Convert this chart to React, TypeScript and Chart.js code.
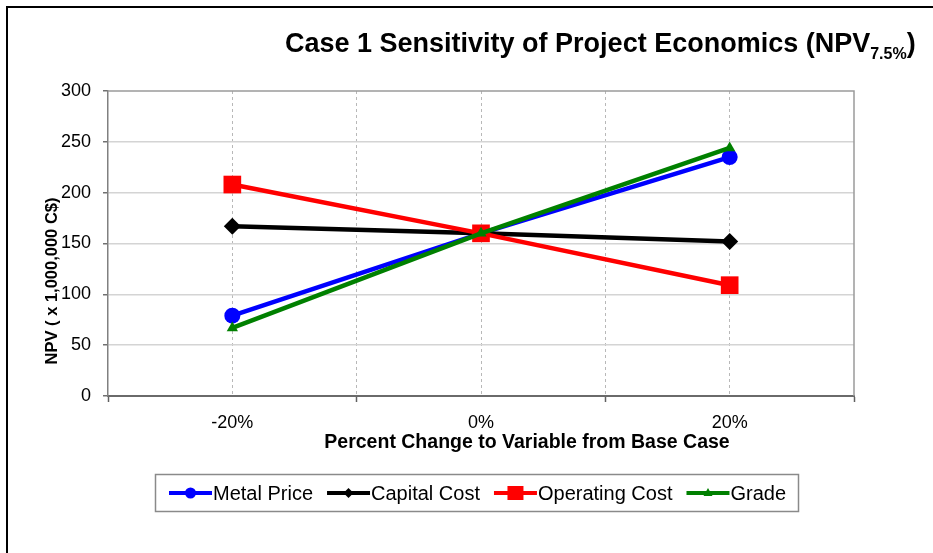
import React, { useEffect, useRef } from 'react';
import { Chart, registerables } from 'chart.js';

Chart.register(...registerables);

// ---- data ----
const pctChange = [-20, 0, 20];
const metalPrice = [79, 160, 235];
const capitalCost = [167, 160, 152];
const operatingCost = [208, 160, 109];
const grade = [67, 160, 244];

const seriesNames = ['Metal Price', 'Capital Cost', 'Operating Cost', 'Grade'];
const seriesValues = [metalPrice, capitalCost, operatingCost, grade];
const seriesColors = ['#0000FF', '#000000', '#FF0000', '#008000'];
const seriesMarkers = ['circle', 'rectRot', 'rect', 'triangle'];
const seriesMarkerRadius = [8, 8.5, 12.5, 6.5];

const xTickLabels = ['-20%', '0%', '20%'];
const yMin = 0;
const yMax = 300;
const yStep = 50;

const titleMain = 'Case 1 Sensitivity of Project Economics (NPV';
const titleSub = '7.5%';
const titleEnd = ')';
const xTitle = 'Percent Change to Variable from Base Case';
const yTitle = 'NPV ( x 1,000,000 C$)';

const FONT = '"Liberation Sans", Arial, sans-serif';

const decorPlugin = {
  id: 'decor',
  afterDraw(chart: any) {
    const ctx = chart.ctx as CanvasRenderingContext2D;
    const area = chart.chartArea;
    ctx.save();
    // outer frame (top and left)
    ctx.strokeStyle = '#000';
    ctx.lineWidth = 2;
    ctx.beginPath();
    ctx.moveTo(7, 553);
    ctx.lineTo(7, 7);
    ctx.lineTo(933, 7);
    ctx.stroke();

    // plot area border top/right
    ctx.strokeStyle = '#9a9a9a';
    ctx.lineWidth = 1.5;
    ctx.beginPath();
    ctx.moveTo(area.left, area.top);
    ctx.lineTo(area.right, area.top);
    ctx.lineTo(area.right, area.bottom);
    ctx.stroke();

    // title with subscript
    ctx.fillStyle = '#000';
    ctx.textBaseline = 'alphabetic';
    ctx.textAlign = 'left';
    ctx.font = `bold 27px ${FONT}`;
    let tx = 285;
    const ty = 52;
    ctx.fillText(titleMain, tx, ty);
    tx += ctx.measureText(titleMain).width;
    ctx.font = `bold 16px ${FONT}`;
    ctx.fillText(titleSub, tx, ty + 7);
    tx += ctx.measureText(titleSub).width;
    ctx.font = `bold 27px ${FONT}`;
    ctx.fillText(titleEnd, tx, ty);

    // x axis title
    ctx.font = `bold 19.5px ${FONT}`;
    ctx.textAlign = 'center';
    ctx.textBaseline = 'middle';
    ctx.fillText(xTitle, 527, 443);

    // y axis title
    ctx.save();
    ctx.translate(52, 281);
    ctx.rotate(-Math.PI / 2);
    ctx.font = `bold 16.5px ${FONT}`;
    ctx.fillText(yTitle, 0, 0);
    ctx.restore();

    // legend
    const lx = 155.5, ly = 474.5, lw = 643, lh = 37;
    ctx.strokeStyle = '#8a8a8a';
    ctx.lineWidth = 1.5;
    ctx.strokeRect(lx, ly, lw, lh);
    ctx.font = `20px ${FONT}`;
    ctx.textAlign = 'left';
    ctx.textBaseline = 'middle';
    let x = 169;
    const cy = ly + lh / 2;
    const sampleLen = 43;
    seriesNames.forEach((name, i) => {
      const color = seriesColors[i];
      ctx.strokeStyle = color;
      ctx.lineWidth = 4;
      ctx.beginPath();
      ctx.moveTo(x, cy);
      ctx.lineTo(x + sampleLen, cy);
      ctx.stroke();
      ctx.fillStyle = color;
      const mx = x + sampleLen / 2;
      const m = seriesMarkers[i];
      ctx.beginPath();
      if (m === 'circle') {
        ctx.arc(mx, cy, 5.5, 0, Math.PI * 2);
      } else if (m === 'rectRot') {
        ctx.moveTo(mx - 5, cy);
        ctx.lineTo(mx, cy - 5);
        ctx.lineTo(mx + 5, cy);
        ctx.lineTo(mx, cy + 5);
        ctx.closePath();
      } else if (m === 'rect') {
        ctx.rect(mx - 8, cy - 7, 16, 14);
      } else {
        ctx.moveTo(mx, cy - 5);
        ctx.lineTo(mx + 4.5, cy + 3);
        ctx.lineTo(mx - 4.5, cy + 3);
        ctx.closePath();
      }
      ctx.fill();
      ctx.fillStyle = '#000';
      ctx.fillText(name, x + sampleLen + 1, cy + 1);
      x += sampleLen + 1 + ctx.measureText(name).width + 14;
    });
    ctx.restore();
  },
};

export default function App() {
  const canvasRef = useRef<HTMLCanvasElement | null>(null);

  useEffect(() => {
    const canvas = canvasRef.current;
    if (!canvas) return;
    const datasets = seriesNames.map((name, i) => ({
      label: name,
      data: pctChange.map((p, j) => ({ x: p, y: seriesValues[i][j] })),
      borderColor: seriesColors[i],
      backgroundColor: seriesColors[i],
      borderWidth: 4.5,
      pointStyle: seriesMarkers[i],
      pointRadius: seriesMarkerRadius[i],
      pointBorderWidth: 0,
      pointBackgroundColor: seriesColors[i],
      order: seriesNames.length - i,
      tension: 0,
    }));

    const chart = new Chart(canvas, {
      type: 'line',
      data: { datasets },
      plugins: [decorPlugin],
      options: {
        animation: false,
        responsive: false,
        devicePixelRatio: 1,
        layout: { padding: { left: 0, top: 91, right: 79, bottom: 0 } },
        plugins: {
          legend: { display: false },
          title: { display: false },
          tooltip: { enabled: false },
        },
        scales: {
          x: {
            type: 'linear',
            min: -30,
            max: 30,
            afterFit: (scale: any) => { scale.height = 157; },
            ticks: {
              stepSize: 10,
              autoSkip: false,
              maxRotation: 0,
              padding: 10,
              color: '#000',
              font: { family: FONT, size: 18 },
              callback: (v: any) => {
                const idx = pctChange.indexOf(Number(v));
                return idx >= 0 ? xTickLabels[idx] : '';
              },
            },
            grid: {
              color: (c: any) => (Math.abs(c.tick?.value) === 30 ? 'rgba(0,0,0,0)' : '#b8b8b8'),
              lineWidth: 1,
              tickLength: 6,
              tickWidth: 1.5,
              tickColor: (c: any) => (c.tick && c.tick.value % 20 === 0 ? 'rgba(0,0,0,0)' : '#606060'),
            },
            border: { display: true, color: '#6a6a6a', width: 2, dash: [3, 3] },
          },
          y: {
            type: 'linear',
            min: yMin,
            max: yMax,
            afterFit: (scale: any) => { scale.width = 108; },
            ticks: {
              stepSize: yStep,
              padding: 12,
              color: '#000',
              font: { family: FONT, size: 18 },
            },
            grid: {
              color: (c: any) => (c.tick && (c.tick.value === 0 || c.tick.value === 300) ? 'rgba(0,0,0,0)' : '#d4d4d4'),
              lineWidth: 1.5,
              tickLength: 5,
              tickWidth: 1.5,
              tickColor: '#707070',
            },
            border: { display: true, color: '#808080', width: 1.5 },
          },
        },
      },
    } as any);
    return () => chart.destroy();
  }, []);

  return (
    <div style={{ position: 'fixed', left: 0, top: 0, width: 933, height: 553, background: '#fff' }}>
      <canvas ref={canvasRef} width={933} height={553} style={{ display: 'block', width: 933, height: 553 }} />
    </div>
  );
}
